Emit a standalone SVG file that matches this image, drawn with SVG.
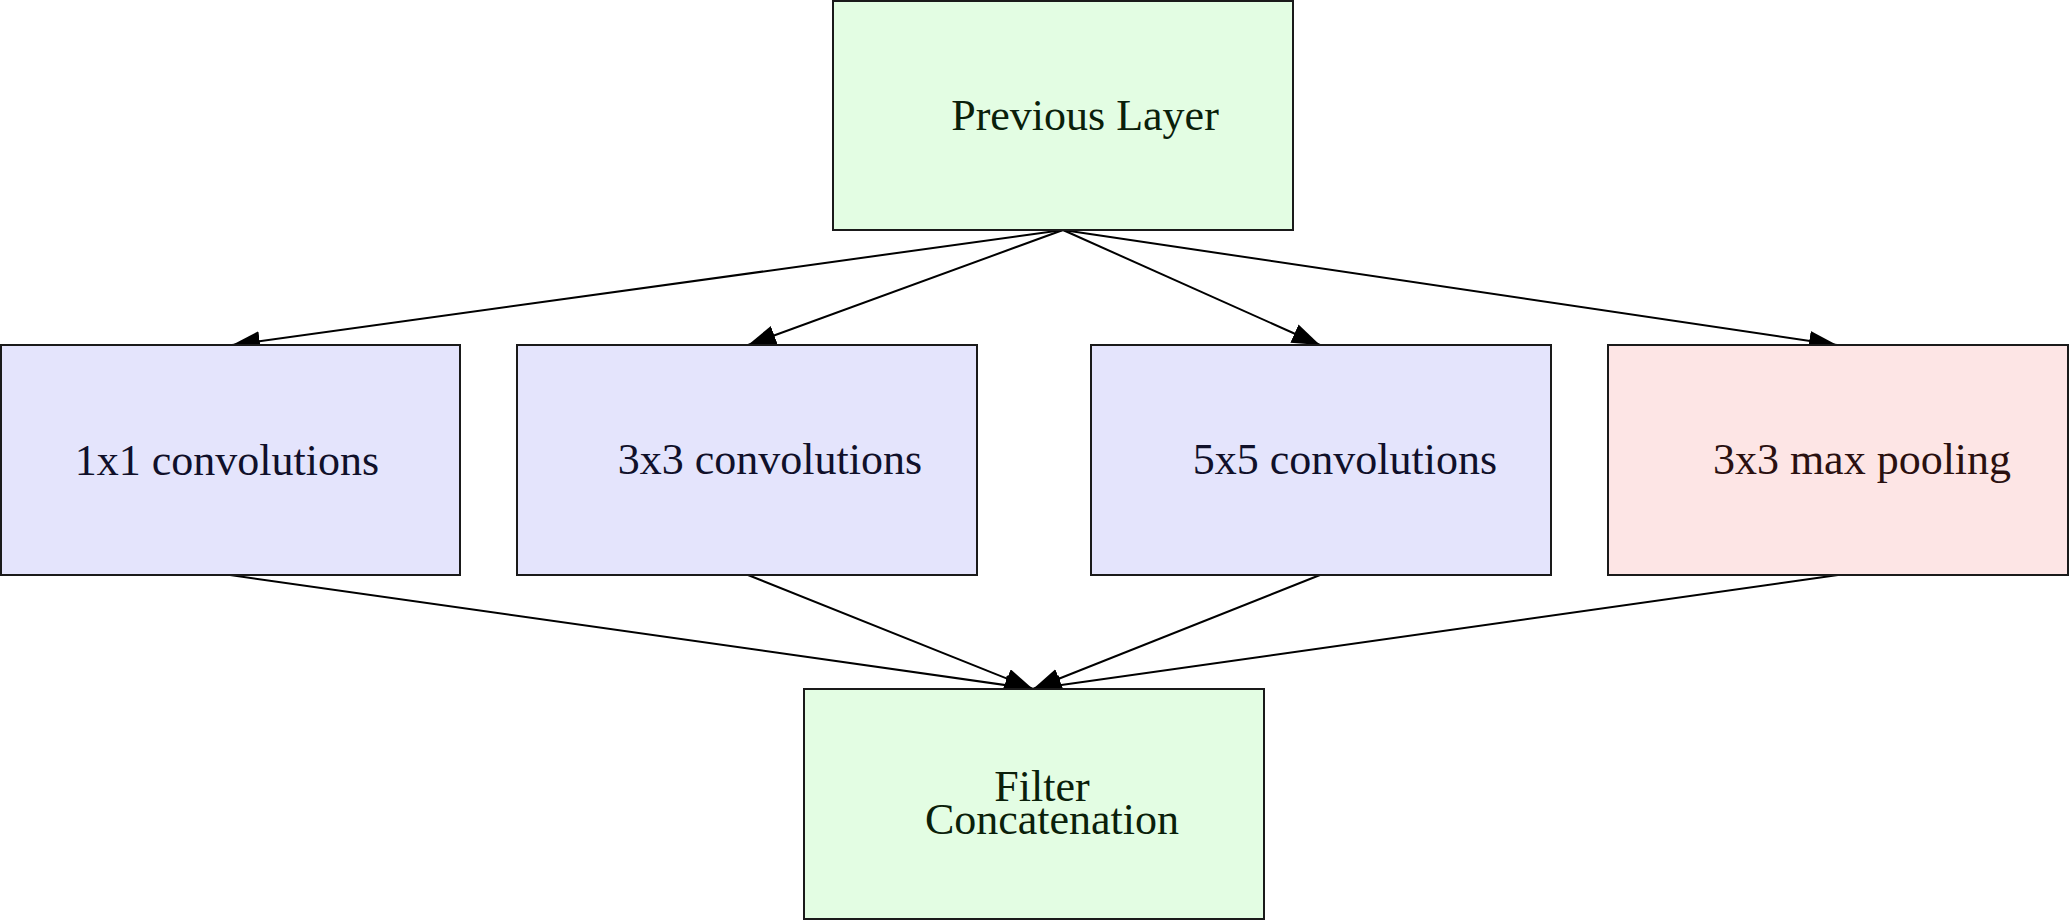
<svg xmlns="http://www.w3.org/2000/svg" width="2069" height="921" viewBox="0 0 2069 921">
<style>
.box{stroke:#1a1a1a;stroke-width:2}
.green{fill:#e3fde3}
.blue{fill:#e4e4fc}
.red{fill:#fde5e5}
.lbl{font-family:"Liberation Serif","DejaVu Serif",serif;font-size:44px;text-anchor:middle}
.tg{fill:#0a200a}
.tb{fill:#10102a}
.tr{fill:#2a1010}
.edge{stroke:#000;stroke-width:2;fill:none;marker-end:url(#arr)}
</style>
<defs>
<marker id="arr" markerUnits="userSpaceOnUse" markerWidth="30" markerHeight="22" refX="28" refY="10" orient="auto">
<path d="M0,0 L28,10 L0,20 z" fill="#000"/>
</marker>
</defs>
<rect width="2069" height="921" fill="#fff"/>
<g id="connectors">
<line class="edge" x1="1063" y1="230" x2="232" y2="345"/>
<line class="edge" x1="1063" y1="230" x2="748" y2="345"/>
<line class="edge" x1="1063" y1="230" x2="1320" y2="345"/>
<line class="edge" x1="1063" y1="230" x2="1837" y2="345"/>
<line class="edge" x1="230" y1="575" x2="1033" y2="689"/>
<line class="edge" x1="748" y1="575" x2="1033" y2="689"/>
<line class="edge" x1="1320" y1="575" x2="1033" y2="689"/>
<line class="edge" x1="1838" y1="575" x2="1033" y2="689"/>
</g>
<g id="previous-layer">
<rect class="box green" x="833" y="1" width="460" height="229"/>
<text class="lbl tg" x="1085" y="130">Previous Layer</text>
</g>
<g id="conv1x1">
<rect class="box blue" x="1" y="345" width="459" height="230"/>
<text class="lbl tb" x="227" y="475">1x1 convolutions</text>
</g>
<g id="conv3x3">
<rect class="box blue" x="517" y="345" width="460" height="230"/>
<text class="lbl tb" x="770" y="474">3x3 convolutions</text>
</g>
<g id="conv5x5">
<rect class="box blue" x="1091" y="345" width="460" height="230"/>
<text class="lbl tb" x="1345" y="474">5x5 convolutions</text>
</g>
<g id="maxpool">
<rect class="box red" x="1608" y="345" width="460" height="230"/>
<text class="lbl tr" x="1862" y="474">3x3 max pooling</text>
</g>
<g id="filter-concat">
<rect class="box green" x="804" y="689" width="460" height="230"/>
<text class="lbl tg" x="1042" y="801">Filter</text>
<text class="lbl tg" x="1052" y="834">Concatenation</text>
</g>
</svg>
